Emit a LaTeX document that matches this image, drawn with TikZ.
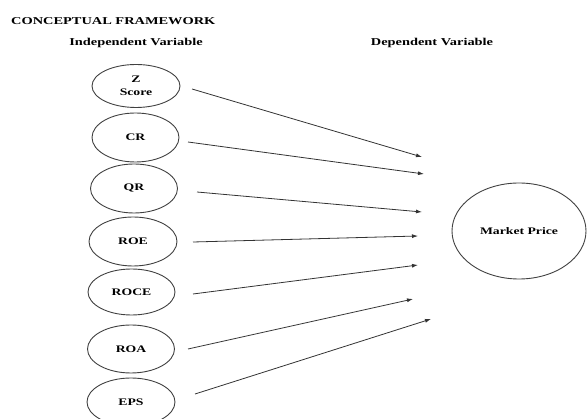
\documentclass[tikz,border=0pt]{standalone}
\usepackage{fontspec}
\setmainfont{Liberation Serif}[FakeStretch=1.37]
\usetikzlibrary{arrows.meta,shapes.geometric}
\begin{document}
\begin{tikzpicture}[x=1pt,y=-1pt,
  txt/.style={font=\bfseries\fontsize{10.5}{12}\selectfont, inner sep=0pt, text=black},
  var/.style={ellipse, draw=black!75, line width=0.9pt, minimum width=87pt, minimum height=48pt,
              inner sep=0pt, align=center, font=\bfseries\fontsize{10}{12.5}\selectfont, text=black},
  link/.style={draw=black!80, line width=0.8pt, -{Latex[length=6pt,width=4pt]}}]
  \useasboundingbox (0,0) rectangle (587,419);

  % headings
  \node[txt, anchor=west] (title) at (11,21) {CONCEPTUAL FRAMEWORK};
  \node[txt] (indep) at (136,43) {Independent Variable};
  \node[txt] (dep) at (432,43) {Dependent Variable};

  % independent variables
  \node[var, minimum height=43pt, minimum width=88pt] (z) at (136,86) {Z\\Score};
  \node[var, minimum height=49pt] (cr) at (135.5,137.5) {CR};
  \node[var, minimum height=49pt] (qr) at (134,188.5) {QR};
  \node[var, minimum height=49pt, minimum width=88pt] (roe) at (133,241.5) {ROE};
  \node[var, minimum height=46pt] (roce) at (131.5,292) {ROCE};
  \node[var] (roa) at (131,349) {ROA};
  \node[var, minimum width=88pt] (eps) at (131,402) {EPS};

  % dependent variable
  \node[var, minimum width=134pt, minimum height=96pt] (mp) at (519,231) {Market Price};

  % arrow end points
  \coordinate (zs) at (192,89);    \coordinate (ze) at (422,157);
  \coordinate (crs) at (188,142);  \coordinate (cre) at (424,174);
  \coordinate (qrs) at (197,192);  \coordinate (qre) at (422,212);
  \coordinate (roes) at (193,242); \coordinate (roee) at (418,236);
  \coordinate (roces) at (193,294);\coordinate (rocee) at (418,265);
  \coordinate (roas) at (188,349); \coordinate (roae) at (413,299);
  \coordinate (epss) at (195,394); \coordinate (epse) at (431,319);

  \draw[link] (zs) -- (ze);
  \draw[link] (crs) -- (cre);
  \draw[link] (qrs) -- (qre);
  \draw[link] (roes) -- (roee);
  \draw[link] (roces) -- (rocee);
  \draw[link] (roas) -- (roae);
  \draw[link] (epss) -- (epse);
\end{tikzpicture}
\end{document}
